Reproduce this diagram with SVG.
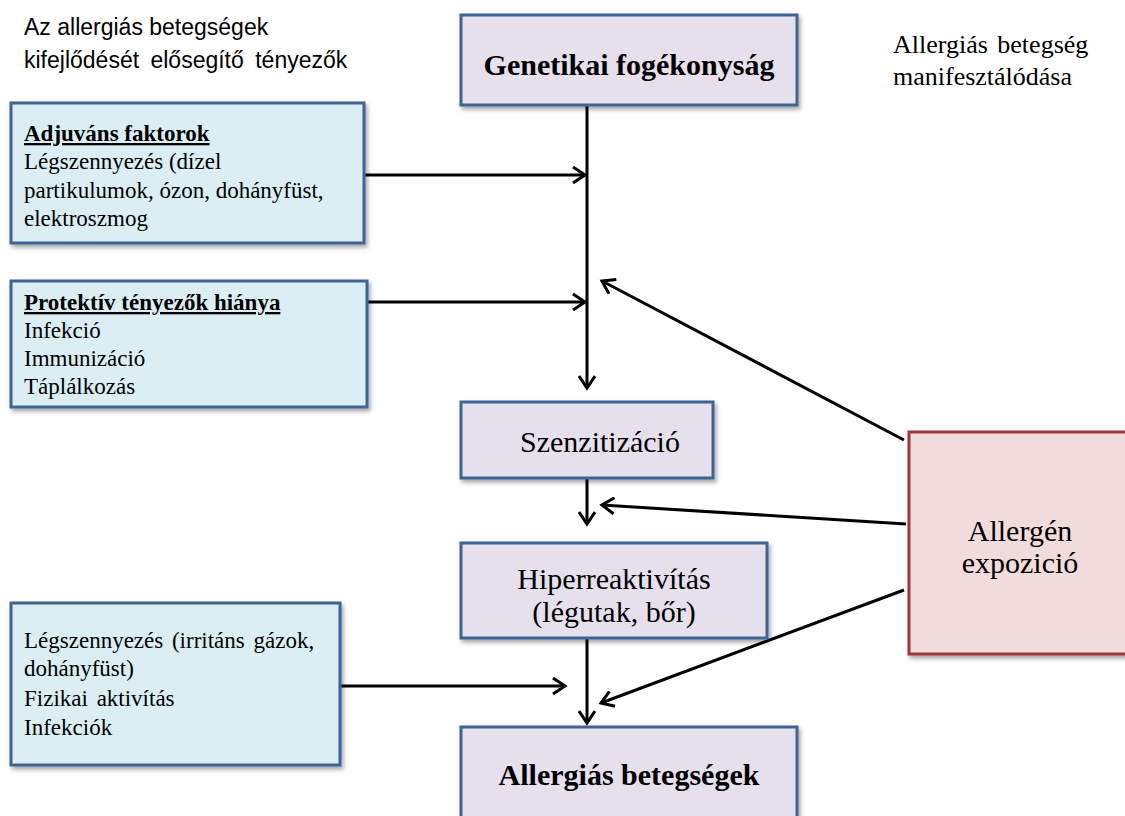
<svg xmlns="http://www.w3.org/2000/svg" width="1125" height="816" viewBox="0 0 1125 816">
<style>
.serif{font-family:"Liberation Serif","Times New Roman",serif;fill:#000}
.sans{font-family:"Liberation Sans",Arial,sans-serif;fill:#000}
.lav{fill:#E5E0EC;stroke:#3F6393;stroke-width:3}
.blue{fill:#DBEEF4;stroke:#3F6393;stroke-width:3}
.red{fill:#F2DCDB;stroke:#A0393A;stroke-width:3}
.conn{stroke:#000;stroke-width:3;fill:none}
.c{font-size:30px;text-anchor:middle}
.l{font-size:23px}
</style>
<defs>
<filter id="sh" x="-10%" y="-10%" width="120%" height="130%">
<feDropShadow dx="2" dy="3" stdDeviation="2" flood-color="#000" flood-opacity="0.35"/>
</filter>
<marker id="ah" markerWidth="18" markerHeight="18" refX="14" refY="9" orient="auto" markerUnits="userSpaceOnUse">
<polyline points="2,1 14,9 2,17" fill="none" stroke="#000" stroke-width="3"/>
</marker>
</defs>
<rect width="1125" height="816" fill="#fff"/>
<g id="title-left">
<text class="sans" x="24" y="35" font-size="23">Az allergiás betegségek</text>
<text class="sans" x="24" y="68" font-size="23" word-spacing="5">kifejlődését elősegítő tényezők</text>
</g>
<g id="title-right">
<text class="serif" x="893" y="53" font-size="26" word-spacing="3">Allergiás betegség</text>
<text class="serif" x="893" y="85" font-size="26">manifesztálódása</text>
</g>
<g id="connectors">
<line class="conn" x1="587" y1="105" x2="587" y2="388" marker-end="url(#ah)"/>
<line class="conn" x1="364" y1="175" x2="585" y2="175" marker-end="url(#ah)"/>
<line class="conn" x1="367" y1="302" x2="585" y2="302" marker-end="url(#ah)"/>
<line class="conn" x1="904" y1="440" x2="602" y2="281" marker-end="url(#ah)"/>
<line class="conn" x1="587" y1="478" x2="587" y2="524" marker-end="url(#ah)"/>
<line class="conn" x1="906" y1="524" x2="602" y2="505" marker-end="url(#ah)"/>
<line class="conn" x1="587" y1="638" x2="587" y2="723" marker-end="url(#ah)"/>
<line class="conn" x1="340" y1="686" x2="565" y2="686" marker-end="url(#ah)"/>
<line class="conn" x1="904" y1="590" x2="601" y2="703" marker-end="url(#ah)"/>
</g>
<g id="genetikai">
<rect class="lav" x="461" y="15" width="336" height="90" filter="url(#sh)"/>
<text class="serif c" x="629" y="75" font-weight="bold">Genetikai fogékonyság</text>
</g>
<g id="adjuvans">
<rect class="blue" x="11" y="103" width="353" height="140" filter="url(#sh)"/>
<text class="serif l" x="24" y="141" font-weight="bold" text-decoration="underline">Adjuváns faktorok</text>
<text class="serif l" x="24" y="169">Légszennyezés (dízel</text>
<text class="serif l" x="24" y="198">partikulumok, ózon, dohányfüst,</text>
<text class="serif l" x="24" y="226">elektroszmog</text>
</g>
<g id="protektiv">
<rect class="blue" x="11" y="281" width="356" height="126" filter="url(#sh)"/>
<text class="serif l" x="24" y="310" font-weight="bold" text-decoration="underline">Protektív tényezők hiánya</text>
<text class="serif l" x="24" y="338">Infekció</text>
<text class="serif l" x="24" y="366">Immunizáció</text>
<text class="serif l" x="24" y="394">Táplálkozás</text>
</g>
<g id="szenzitizacio">
<rect class="lav" x="461" y="402" width="252" height="76" filter="url(#sh)"/>
<text class="serif c" x="600" y="452">Szenzitizáció</text>
</g>
<g id="hiperreaktivitas">
<rect class="lav" x="461" y="543" width="306" height="95" filter="url(#sh)"/>
<text class="serif c" x="614" y="589">Hiperreaktivítás</text>
<text class="serif c" x="614" y="622">(légutak, bőr)</text>
</g>
<g id="allergen">
<rect class="red" x="909" y="432" width="230" height="222" filter="url(#sh)"/>
<text class="serif c" x="1020" y="541">Allergén</text>
<text class="serif c" x="1020" y="573">expozició</text>
</g>
<g id="kornyezeti">
<rect class="blue" x="11" y="603" width="329" height="162" filter="url(#sh)"/>
<text class="serif l" x="24" y="648" word-spacing="3">Légszennyezés (irritáns gázok,</text>
<text class="serif l" x="24" y="676">dohányfüst)</text>
<text class="serif l" x="24" y="706" word-spacing="3">Fizikai aktivítás</text>
<text class="serif l" x="24" y="735">Infekciók</text>
</g>
<g id="allergias">
<rect class="lav" x="461" y="727" width="336" height="100" filter="url(#sh)"/>
<text class="serif c" x="629" y="785" font-weight="bold">Allergiás betegségek</text>
</g>
</svg>
